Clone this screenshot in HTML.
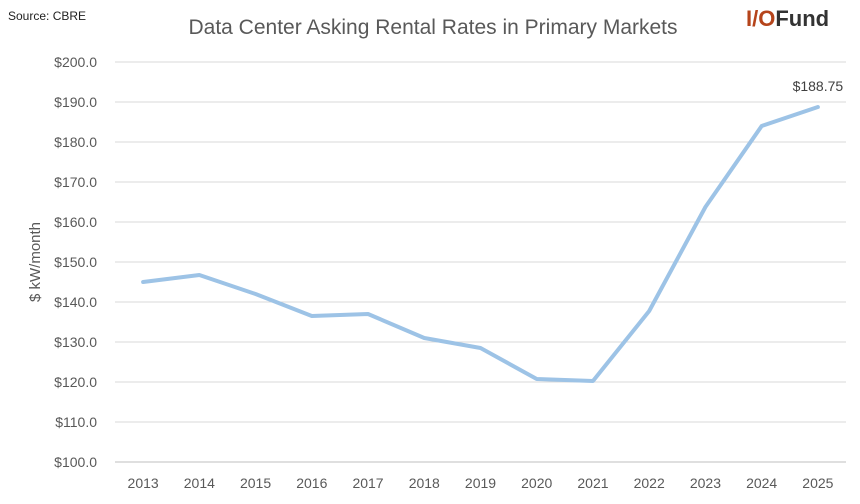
<!DOCTYPE html>
<html><head><meta charset="utf-8"><style>
body{margin:0;background:#fff;font-family:"Liberation Sans",sans-serif;}
svg text{font-family:"Liberation Sans",sans-serif;}
</style></head><body>
<svg id="chart" width="860" height="499" viewBox="0 0 860 499">
<text x="8" y="20" font-size="12" fill="#222">Source: CBRE</text>
<text x="433" y="34" font-size="21" fill="#595959" text-anchor="middle">Data Center Asking Rental Rates in Primary Markets</text>
<text x="746" y="26" font-size="22" font-weight="bold"><tspan fill="#b5441b">I/O</tspan><tspan fill="#333">Fund</tspan></text>
<text transform="translate(40,262) rotate(-90)" font-size="15" fill="#595959" text-anchor="middle">$ kW/month</text>
<g id="grid"></g><g id="xt"></g><g id="series"></g>
</svg>
<script>
const years=["2013","2014","2015","2016","2017","2018","2019","2020","2021","2022","2023","2024","2025"];
const rates=[145.0,146.75,142,136.5,137,131,128.5,120.75,120.25,137.75,163.75,184,188.75];
const yTicks=[100,110,120,130,140,150,160,170,180,190,200];
const NS="http://www.w3.org/2000/svg";
const x0=115,x1=846,yMin=100,yMax=200,py0=462,py1=62;
const step=(x1-x0)/years.length;
const X=i=>x0+step*(i+0.5);
const Y=v=>py0-(v-yMin)/(yMax-yMin)*(py0-py1);
function mk(t,a,p){const e=document.createElementNS(NS,t);for(const k in a)e.setAttribute(k,a[k]);p.appendChild(e);return e;}
const g=document.getElementById('grid');
yTicks.forEach(v=>{
 const l=mk('line',{x1:x0,x2:x1,y1:Y(v),y2:Y(v),stroke:v===yMin?'#bfbfbf':'#d9d9d9','stroke-width':1},g);
 
 
 const t=mk('text',{x:97,y:Y(v)+5,'font-size':14,fill:'#595959','text-anchor':'end'},g);
 t.textContent='$'+v.toFixed(1);
 
 
});
const xt=document.getElementById('xt');
years.forEach((y,i)=>{
 const t=mk('text',{x:X(i),y:488,'font-size':14,fill:'#595959','text-anchor':'middle'},xt);
 t.textContent=y;
 
 
});
const s=document.getElementById('series');
const p=mk('polyline',{points:rates.map((v,i)=>X(i)+','+Y(v)).join(' '),fill:'none',stroke:'#9dc3e6','stroke-width':4,'stroke-linejoin':'round','stroke-linecap':'round'},s);


const li=rates.length-1;
const lb=mk('text',{x:X(li),y:Y(rates[li])-16,'font-size':14,fill:'#404040','text-anchor':'middle'},s);
lb.textContent='$'+rates[li].toFixed(2);


</script>
</body></html>
